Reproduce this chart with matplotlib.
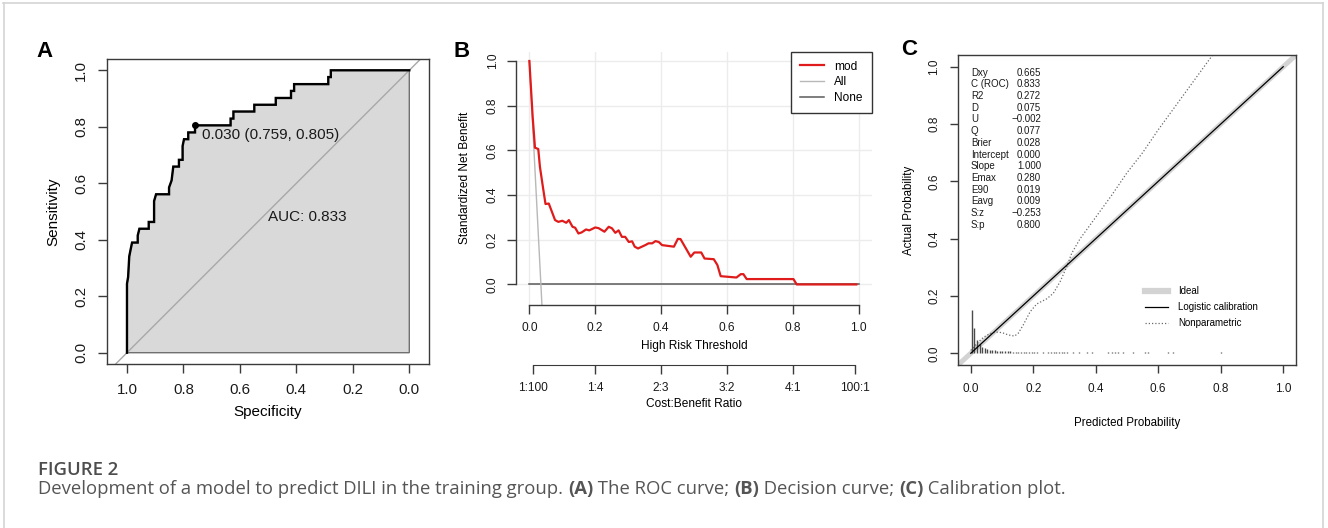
import numpy as np
import matplotlib
matplotlib.use('Agg')
import matplotlib.pyplot as plt
from matplotlib.lines import Line2D

W, H = 1328, 528

# ---- panel A : ROC curve (specificity, sensitivity) ----
roc_spec = [1.000, 1.000, 0.996, 0.992, 0.987, 0.982, 0.962, 0.962, 0.956, 0.923,
            0.923, 0.904, 0.904, 0.897, 0.851, 0.851, 0.842, 0.836, 0.816, 0.816,
            0.803, 0.803, 0.798, 0.783, 0.783, 0.759, 0.759, 0.633, 0.633, 0.623,
            0.623, 0.549, 0.549, 0.473, 0.473, 0.419, 0.419, 0.408, 0.408, 0.287,
            0.287, 0.278, 0.278, 0.000]
roc_sens = [0.000, 0.244, 0.268, 0.341, 0.366, 0.390, 0.390, 0.415, 0.439, 0.439,
            0.463, 0.463, 0.537, 0.561, 0.561, 0.585, 0.610, 0.659, 0.659, 0.683,
            0.683, 0.732, 0.756, 0.756, 0.780, 0.780, 0.805, 0.805, 0.829, 0.829,
            0.854, 0.854, 0.878, 0.878, 0.902, 0.902, 0.927, 0.927, 0.951, 0.951,
            0.976, 0.976, 1.000, 1.000]
best_spec, best_sens, best_thr = 0.759, 0.805, 0.030
auc = 0.833

# ---- panel B : decision curve ----
dca_thr = [0.000, 0.010, 0.017, 0.027, 0.032, 0.041, 0.049, 0.059, 0.078, 0.088,
           0.100, 0.112, 0.120, 0.131, 0.139, 0.149, 0.159, 0.172, 0.182, 0.200,
           0.210, 0.228, 0.241, 0.251, 0.261, 0.271, 0.281, 0.291, 0.302, 0.312,
           0.320, 0.330, 0.352, 0.362, 0.373, 0.383, 0.393, 0.403, 0.439, 0.451,
           0.459, 0.490, 0.501, 0.522, 0.532, 0.560, 0.571, 0.581, 0.629, 0.642,
           0.650, 0.660, 0.802, 0.812, 0.993]
dca_mod = [1.000, 0.750, 0.612, 0.606, 0.527, 0.437, 0.360, 0.362, 0.288, 0.280,
           0.285, 0.276, 0.288, 0.258, 0.254, 0.228, 0.233, 0.246, 0.242, 0.255,
           0.252, 0.236, 0.258, 0.251, 0.231, 0.242, 0.213, 0.213, 0.190, 0.193,
           0.169, 0.161, 0.176, 0.184, 0.184, 0.194, 0.190, 0.176, 0.169, 0.204,
           0.203, 0.124, 0.143, 0.143, 0.116, 0.113, 0.087, 0.037, 0.031, 0.046,
           0.046, 0.024, 0.024, 0.000, 0.000]
dca_all_thr = [0.000, 0.035, 0.050]
dca_all = [1.000, 0.000, -0.440]
cb_ticks = [0.01, 0.2, 0.4, 0.6, 0.8, 0.99]
cb_labels = ['1:100', '1:4', '2:3', '3:2', '4:1', '100:1']

# ---- panel C : calibration ----
np_pred = [0.000, 0.020, 0.040, 0.060, 0.080, 0.100, 0.120, 0.140, 0.152, 0.168,
           0.190, 0.211, 0.243, 0.264, 0.286, 0.307, 0.323, 0.350, 0.400, 0.450,
           0.500, 0.550, 0.600, 0.650, 0.700, 0.750, 0.800]
np_obs = [0.010, 0.035, 0.055, 0.068, 0.074, 0.072, 0.064, 0.060, 0.070, 0.099,
          0.145, 0.172, 0.190, 0.209, 0.250, 0.302, 0.349, 0.400, 0.475, 0.550,
          0.630, 0.700, 0.780, 0.855, 0.930, 1.005, 1.080]
spike_x = [0.003, 0.011, 0.019, 0.028, 0.035, 0.044, 0.051, 0.060, 0.067, 0.076,
           0.084, 0.093, 0.101, 0.110, 0.118, 0.127, 0.135, 0.144, 0.152, 0.161,
           0.169, 0.178, 0.186, 0.195, 0.203, 0.212, 0.230, 0.248, 0.257, 0.265,
           0.274, 0.282, 0.291, 0.299, 0.307, 0.328, 0.347, 0.371, 0.387, 0.440,
           0.451, 0.462, 0.472, 0.488, 0.518, 0.557, 0.568, 0.632, 0.648, 0.800]
spike_h = [0.151, 0.087, 0.046, 0.034, 0.023, 0.017, 0.014, 0.012, 0.011, 0.010,
           0.009, 0.008, 0.008, 0.007, 0.007, 0.007, 0.006, 0.006, 0.006, 0.006,
           0.006, 0.005, 0.005, 0.005, 0.005, 0.005, 0.005, 0.005, 0.005, 0.005,
           0.005, 0.005, 0.005, 0.005, 0.005, 0.005, 0.005, 0.005, 0.005, 0.005,
           0.005, 0.005, 0.005, 0.005, 0.005, 0.005, 0.005, 0.005, 0.005, 0.005]
stat_names = ['Dxy', 'C (ROC)', 'R2', 'D', 'U', 'Q', 'Brier', 'Intercept', 'Slope',
              'Emax', 'E90', 'Eavg', 'S:z', 'S:p']
stat_values = [0.665, 0.833, 0.272, 0.075, -0.002, 0.077, 0.028, 0.000, 1.000,
               0.280, 0.019, 0.009, -0.253, 0.800]

plt.rcParams['font.family'] = ['Liberation Sans', 'DejaVu Sans']
NARROW = ['Liberation Sans Narrow', 'Liberation Sans', 'DejaVu Sans']
CAPFONT = ['Open Sans', 'DejaVu Sans']
SPINE = '#3a3a3a'

fig = plt.figure(figsize=(W / 100, H / 100), dpi=100)


def px_axes(x0, y0, x1, y1):
    return fig.add_axes([x0 / W, 1 - y1 / H, (x1 - x0) / W, (y1 - y0) / H])


def style_ticks(ax, size, length, pad):
    ax.tick_params(direction='out', length=length, width=1.0, color=SPINE,
                   labelsize=size, pad=pad, labelcolor='#1a1a1a')
    ax.tick_params(axis='y', labelrotation=90)
    for lab in ax.get_yticklabels():
        lab.set_va('center')
    for sp in ax.spines.values():
        sp.set_color(SPINE)
        sp.set_linewidth(1.0)


def place_labels(ax, xpos, ypos):
    # label centres in axes fraction
    ax.xaxis.set_label_coords(*xpos)
    ax.yaxis.set_label_coords(*ypos)
    ax.xaxis.label.set_va('center')
    ax.yaxis.label.set_va('center')


ticks = [0.0, 0.2, 0.4, 0.6, 0.8, 1.0]

# ---------------- A ----------------
axA = px_axes(107, 59, 429, 364)
axA.set_xlim(1.0708, -0.0698)
axA.set_ylim(-0.04, 1.04)
axA.fill(roc_spec + [0.0], roc_sens + [0.0], facecolor='#d9d9d9',
         edgecolor='#707070', lw=1.0, zorder=1)
axA.axline((1.0, 0.0), (0.0, 1.0), color='#a8a8a8', lw=1.0, zorder=2)
axA.plot(roc_spec, roc_sens, color='black', lw=1.7, zorder=3,
         solid_joinstyle='miter')
axA.plot([best_spec], [best_sens], 'o', color='black', ms=4, zorder=4)
axA.text(best_spec - 0.026, best_sens - 0.034,
         f'{best_thr:.3f} ({best_spec:.3f}, {best_sens:.3f})',
         ha='left', va='center', fontsize=11, color='#1a1a1a')
axA.text(0.5, 0.48, f'AUC: {auc:.3f}', ha='left', va='center',
         fontsize=11, color='#1a1a1a')
axA.set_xticks(ticks)
axA.set_yticks(ticks)
style_ticks(axA, 10.8, 6.5, 7)
axA.set_xlabel('Specificity', fontsize=11)
axA.set_ylabel('Sensitivity', fontsize=11)
place_labels(axA, (0.5, -0.158), (-0.167, 0.5))

# ---------------- B ----------------
axB = px_axes(516.2, 51.6, 871.8, 305)
axB.set_xlim(-0.04, 1.04)
axB.set_ylim(-0.092, 1.042)
axB.set_xticks(ticks)
axB.set_yticks(ticks)
axB.grid(True, color='#ececec', lw=1.0)
axB.set_axisbelow(True)
axB.plot([0, 1], [0, 0], color='#5a5a5a', lw=1.1, label='None', zorder=2)
axB.plot(dca_all_thr, dca_all, color='#b8b8b8', lw=1.0, label='All', zorder=2)
axB.plot(dca_thr, dca_mod, color='#e01b1b', lw=1.6, label='mod', zorder=3)
for s in ('top', 'right'):
    axB.spines[s].set_visible(False)
axB.spines['left'].set_bounds(0, 1)
axB.spines['bottom'].set_bounds(0, 1)
style_ticks(axB, 8.6, 6.5, 6)
axB.set_xlabel('High Risk Threshold', fontsize=8.6)
axB.set_ylabel('Standardized Net Benefit', fontsize=8.6)
place_labels(axB, (0.5, -0.161), (-0.144, 0.5))
h, l = axB.get_legend_handles_labels()
order = [l.index('mod'), l.index('All'), l.index('None')]
leg = axB.legend([h[i] for i in order], [l[i] for i in order], loc='upper right',
                 bbox_to_anchor=(1.0, 1.0), borderaxespad=0, fancybox=False,
                 fontsize=8.6, handlelength=1.95, handletextpad=0.9,
                 labelspacing=0.3, borderpad=0.75, framealpha=1)
leg.get_frame().set_edgecolor('#333333')
leg.get_frame().set_linewidth(1.0)

# second axis: cost:benefit ratio, 60 px below the threshold axis
axB2 = axB.twiny()
axB2.set_xlim(axB.get_xlim())
axB2.xaxis.set_ticks_position('bottom')
axB2.xaxis.set_label_position('bottom')
axB2.spines['bottom'].set_position(('outward', 60 * 0.72))
for s in ('top', 'right', 'left'):
    axB2.spines[s].set_visible(False)
axB2.spines['bottom'].set_bounds(cb_ticks[0], cb_ticks[-1])
axB2.set_xticks(cb_ticks)
axB2.set_xticklabels(cb_labels)
axB2.tick_params(direction='out', length=6.5, width=1.0, color=SPINE,
                 labelsize=8.6, pad=6, labelcolor='#1a1a1a')
axB2.spines['bottom'].set_color(SPINE)
axB2.set_xlabel('Cost:Benefit Ratio', fontsize=8.6)
axB2.xaxis.set_label_coords(0.5, -0.391)
axB2.xaxis.label.set_va('center')

# ---------------- C ----------------
axC = px_axes(958.3, 55, 1295.7, 365)
axC.set_xlim(-0.04, 1.04)
axC.set_ylim(-0.041, 1.041)
axC.axline((0, 0), (1, 1), color='#d3d3d3', lw=3.6, zorder=1,
           solid_capstyle='butt')
axC.plot([0, 1], [0, 1], color='black', lw=0.9, zorder=3)
axC.plot(np_pred, np_obs, color='#6a6a6a', lw=0.9, ls=(0, (1, 1.6)), zorder=2)
axC.vlines(spike_x, 0, spike_h, color='#4a4a4a', lw=1.0, zorder=2)
axC.set_xticks(ticks)
axC.set_yticks(ticks)
style_ticks(axC, 8.5, 6, 7)
axC.set_xlabel('Predicted Probability', fontsize=8.3)
axC.set_ylabel('Actual Probability', fontsize=8.3)
place_labels(axC, (0.499, -0.188), (-0.145, 0.5))

row_h = 11.67 / 286.7 * (1.082 / 1.08)
for i, (name, val) in enumerate(zip(stat_names, stat_values)):
    yy = 0.979 - i * row_h
    axC.text(0.0, yy, name, ha='left', va='center', fontsize=7,
             family=NARROW, color='#1a1a1a')
    axC.text(0.225, yy, f'{val:.3f}'.replace('-', '\u2212'), ha='right',
             va='center', fontsize=7, family=NARROW, color='#1a1a1a')

legC = axC.legend(
    [Line2D([], [], color='#d3d3d3', lw=4.5),
     Line2D([], [], color='black', lw=0.9),
     Line2D([], [], color='#6a6a6a', lw=0.9, ls=(0, (1, 1.6)))],
    ['Ideal', 'Logistic calibration', 'Nonparametric'],
    loc='upper left', bbox_to_anchor=(0.553, 0.254), borderaxespad=0,
    borderpad=0, frameon=False, handlelength=2.4, handletextpad=1.05,
    labelspacing=0.62, prop={'family': NARROW, 'size': 7})

# ---------------- panel letters ----------------
for letter, x, y in (('A', 36, 57.3), ('B', 454, 56.7), ('C', 900.7, 55)):
    fig.text(x / W, 1 - y / H, letter, fontsize=16, fontweight='bold',
             ha='left', va='baseline', color='black')

# ---------------- caption ----------------
cap = fig.add_axes([0, 0, 1, 1])
cap.axis('off')
cap.set_zorder(-1)
fig.text(38.3 / W, 1 - 475 / H, 'FIGURE 2', family=CAPFONT,
         fontsize=13.3, fontweight='semibold', color='#4d4d4d', va='baseline')
pieces = [('Development of a model to predict DILI in the training group. ', 'normal'),
          ('(A)', 'bold'), (' The ROC curve; ', 'normal'), ('(B)', 'bold'),
          (' Decision curve; ', 'normal'), ('(C)', 'bold'),
          (' Calibration plot.', 'normal')]
prev = None
for txt, wt in pieces:
    kw = dict(family=CAPFONT, fontsize=13.3, fontweight=wt, color='#555555')
    if prev is None:
        prev = cap.text(38.3 / W, 1 - 494.3 / H, txt, va='baseline', ha='left',
                        transform=cap.transAxes, **kw)
    else:
        prev = cap.annotate(txt, xy=(1, 0), xycoords=prev, va='bottom',
                            ha='left', **kw)

# ---------------- outer frame ----------------
for xs, ys in (([3, 1323], [3, 3]), ([4, 4], [3, 528]), ([1322.5, 1322.5], [3, 528])):
    fig.add_artist(Line2D([x / W for x in xs], [1 - y / H for y in ys],
                          transform=fig.transFigure, color='#d4d4d4', lw=1.2))

fig.savefig('out.png', dpi=100)
